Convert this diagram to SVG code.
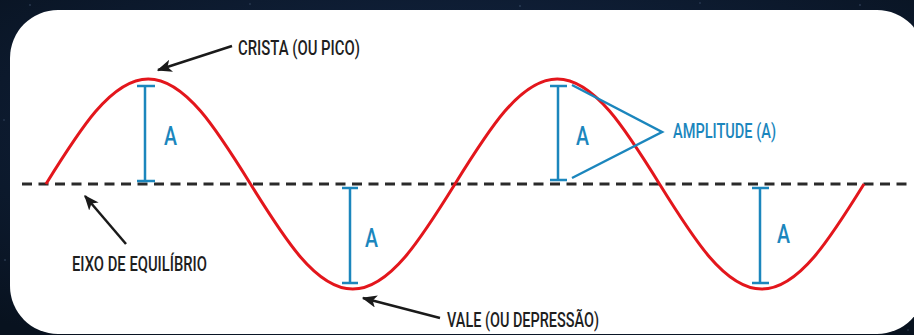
<svg xmlns="http://www.w3.org/2000/svg" width="914" height="335" viewBox="0 0 914 335">
  <defs>
    <radialGradient id="bg" cx="50%" cy="40%" r="75%">
      <stop offset="0" stop-color="#15294a"/>
      <stop offset="1" stop-color="#08121f"/>
    </radialGradient>
    <marker id="arrow" viewBox="0 0 12 10" refX="11" refY="5" markerWidth="6" markerHeight="5" orient="auto" markerUnits="strokeWidth">
      <path d="M0,0 L12,5 L0,10 L3,5 Z" fill="#1a1a1a"/>
    </marker>
  </defs>
  <style>
    .lbl { font-family: Roboto, "DejaVu Sans", sans-serif; font-weight: 500; fill: #1e1e1e; }
    .blue { font-family: Roboto, "DejaVu Sans", sans-serif; font-weight: 500; fill: #1b86bd; }
    .amp { stroke: #1b86bd; stroke-width: 2.5; fill: none; }
    .ptr { stroke: #1a1a1a; stroke-width: 2.5; fill: none; marker-end: url(#arrow); }
  </style>
  <rect x="0" y="0" width="914" height="335" fill="url(#bg)"/>
  <g fill="#6f86a8" opacity="0.5">
    <circle cx="30" cy="5" r="0.8"/><circle cx="250" cy="4" r="0.7"/><circle cx="520" cy="6" r="0.8"/>
    <circle cx="700" cy="3" r="0.7"/><circle cx="860" cy="5" r="0.8"/><circle cx="4" cy="120" r="0.7"/>
    <circle cx="5" cy="260" r="0.8"/><circle cx="908" cy="330" r="0.7"/>
  </g>
  <rect id="card" x="10" y="10" width="915" height="324" rx="48" ry="48" fill="#ffffff"/>

  <g id="axis">
    <line x1="22" y1="184" x2="907" y2="184" stroke="#2a2a2a" stroke-width="3" stroke-dasharray="10 6.5"/>
  </g>

  <g id="wave">
    <path d="M46,184 C79.35,130.21 111.24,79 148.25,79 C185.26,79 217.15,130.21 250.5,184 C283.85,237.79 315.74,289 352.75,289 C389.76,289 421.65,237.79 455,184 C488.35,130.21 520.24,79 557.25,79 C594.26,79 626.15,130.21 659.5,184 C692.85,237.79 724.74,289 761.75,289 C798.76,289 830.65,237.79 864,184" fill="none" stroke="#e3161c" stroke-width="3"/>
  </g>

  <g id="amp1">
    <path class="amp" d="M145,86 V181 M137,86 H155 M137,181 H155"/>
    <text class="blue" x="164" y="145" font-size="25" textLength="13" lengthAdjust="spacingAndGlyphs">A</text>
  </g>
  <g id="amp2">
    <path class="amp" d="M350,188 V283 M342,188 H358 M342,283 H358"/>
    <text class="blue" x="365" y="247" font-size="25" textLength="13" lengthAdjust="spacingAndGlyphs">A</text>
  </g>
  <g id="amp3">
    <path class="amp" d="M558,86 V180 M550,86 H567 M550,180 H567"/>
    <text class="blue" x="576" y="145" font-size="25" textLength="13" lengthAdjust="spacingAndGlyphs">A</text>
  </g>
  <g id="amp4">
    <path class="amp" d="M760,188 V283 M752,188 H769 M752,283 H769"/>
    <text class="blue" x="777" y="243" font-size="25" textLength="13" lengthAdjust="spacingAndGlyphs">A</text>
  </g>

  <g id="amplitude-label">
    <text class="blue" x="673" y="138" font-size="20" textLength="103" lengthAdjust="spacingAndGlyphs">AMPLITUDE (A)</text>
  </g>
  <g id="crista-label">
    <text class="lbl" x="238" y="55" font-size="21" textLength="122" lengthAdjust="spacingAndGlyphs">CRISTA (OU PICO)</text>
  </g>
  <g id="eixo-label">
    <text class="lbl" x="72" y="271" font-size="21" textLength="135" lengthAdjust="spacingAndGlyphs">EIXO DE EQUILÍBRIO</text>
  </g>
  <g id="vale-label">
    <text class="lbl" x="447" y="327" font-size="21" textLength="152" lengthAdjust="spacingAndGlyphs">VALE (OU DEPRESSÃO)</text>
  </g>

  <g id="connectors">
    <path class="amp" d="M572,85 L662,132 L572,178"/>
    <line class="ptr" x1="232" y1="46" x2="158" y2="70"/>
    <line class="ptr" x1="126" y1="244" x2="85" y2="196"/>
    <line class="ptr" x1="440" y1="318" x2="363" y2="298"/>
  </g>
</svg>
